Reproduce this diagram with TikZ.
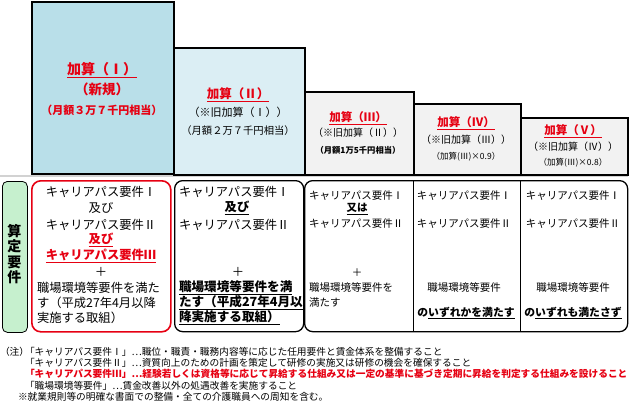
\documentclass[tikz,border=0pt]{standalone}
\usepackage{fontspec}
\setmainfont{Noto Sans CJK JP}
\newcommand\fsz[1]{\fontsize{#1}{#1}\selectfont}
\definecolor{jred}{RGB}{230,0,18}
\definecolor{blueI}{RGB}{185,223,233}
\definecolor{blueII}{RGB}{219,238,244}
\definecolor{grayb}{RGB}{242,242,242}
\definecolor{greenb}{RGB}{198,240,206}
\tikzset{
  topbox/.style={draw=black, line width=1.5pt},
  lowbox/.style={draw=black, line width=1.3pt, rounded corners=8pt},
  tx/.style={inner sep=0pt, outer sep=0pt},
  lt/.style={tx, anchor=west},
  body/.style={font=\fsz{12.3}},
  small/.style={font=\fsz{10.5}},
  note/.style={lt, font=\fsz{9.7}},
}
\begin{document}
\begin{tikzpicture}[x=1pt,y=-1pt]
\useasboundingbox (0,0) rectangle (630,407);
% faint strip under the top boxes
\draw[gray!35, line width=2pt] (0,176) -- (628,176);
% top boxes
\node[topbox, fill=blueI, minimum width=142pt, minimum height=172pt, anchor=north west] (bI) at (31,1) {};
\node[topbox, fill=blueII, minimum width=131pt, minimum height=127pt, anchor=north west] (bII) at (173,47) {};
\node[topbox, fill=grayb, minimum width=109pt, minimum height=83pt, anchor=north west] (bIII) at (304,91) {};
\node[topbox, fill=grayb, minimum width=107pt, minimum height=71pt, anchor=north west] (bIV) at (413,103) {};
\node[topbox, fill=grayb, minimum width=107pt, minimum height=57pt, anchor=north west] (bV) at (520,117) {};
% top texts
\node[tx, font=\fsz{14}\bfseries, text=jred] (t1a) at (102,70) {\underline{加算（Ⅰ）}};
\node[tx, font=\fsz{13.5}\bfseries, text=jred] (t1b) at (102,89) {（新規）};
\node[tx, font=\fsz{11}\bfseries, text=jred] (t1c) at (102,110) {（月額３万７千円相当）};
\node[tx, font=\fsz{12.5}\bfseries, text=jred] (t2a) at (238,95) {\underline{加算（Ⅱ）}};
\node[tx, font=\fsz{11}] (t2b) at (238,112) {（※旧加算（Ⅰ））};
\node[tx, font=\fsz{10.3}] (t2c) at (238,131) {（月額２万７千円相当）};
\node[tx, font=\fsz{11.5}\bfseries, text=jred] (t3a) at (358,118) {\underline{加算（Ⅲ）}};
\node[tx, font=\fsz{10}] (t3b) at (358,133) {（※旧加算（Ⅱ））};
\node[tx, font=\fsz{8.3}\bfseries] (t3c) at (358,150) {（月額1万5千円相当）};
\node[tx, font=\fsz{11.5}\bfseries, text=jred] (t4a) at (466,123) {\underline{加算（Ⅳ）}};
\node[tx, font=\fsz{10}] (t4b) at (466,140) {（※旧加算（Ⅲ））};
\node[tx, font=\fsz{8.5}] (t4c) at (466,157) {（加算(Ⅲ)×0.9）};
\node[tx, font=\fsz{11.5}\bfseries, text=jred] (t5a) at (573,131) {\underline{加算（Ⅴ）}};
\node[tx, font=\fsz{10}] (t5b) at (573,147) {（※旧加算（Ⅳ））};
\node[tx, font=\fsz{8.5}] (t5c) at (573,163) {（加算(Ⅲ)×0.8）};
% lower boxes
\node[draw=black, line width=0.8pt, fill=greenb, rounded corners=5pt, minimum width=25pt, minimum height=151pt, anchor=north west] (lg) at (2,181) {};
\node[tx, align=center, font=\fontsize{14}{15.5}\selectfont\bfseries] (lgt) at (14.5,254) {算\\定\\要\\件};
\node[draw=jred, line width=1.6pt, rounded corners=9pt, minimum width=139pt, minimum height=151pt, anchor=north west] (lI) at (31,180) {};
\node[lowbox, minimum width=129pt, minimum height=151pt, anchor=north west] (lII) at (174,180) {};
\node[lowbox, minimum width=323pt, minimum height=151pt, anchor=north west] (lR) at (304,180) {};
\draw[line width=0.9pt] (lR.north west -| bIV.west) -- (lR.south west -| bIV.west);
\draw[line width=0.9pt] (lR.north west -| bV.west) -- (lR.south west -| bV.west);
% box I texts
\node[tx, body] (a1) at (101,192) {キャリアパス要件Ⅰ};
\node[tx, body] (a2) at (101,208) {及び};
\node[tx, body] (a3) at (101,225) {キャリアパス要件Ⅱ};
\node[tx, body, font=\fsz{12.3}\bfseries, text=jred] (a4) at (101,240) {\underline{及び}};
\node[tx, body, font=\fsz{12.3}\bfseries, text=jred] (a5) at (101,256) {\underline{キャリアパス要件Ⅲ}};
\node[tx, body] (a6) at (101,272) {＋};
\node[lt, body] (a7) at (37,288) {職場環境等要件を満た};
\node[lt, body] (a8) at (37,303) {す（平成27年4月以降};
\node[lt, body] (a9) at (37,318) {実施する取組）};
% box II texts
\node[lt, body] (b1) at (179,192) {キャリアパス要件Ⅰ};
\node[tx, body, font=\fsz{12.3}\bfseries] (b2) at (237,208) {\underline{及び}};
\node[lt, body] (b3) at (179,225) {キャリアパス要件Ⅱ};
\node[tx, body] (b4) at (238,272) {＋};
\node[lt, body, font=\fsz{12.6}\bfseries] (b5) at (179,288) {\underline{職場環境等要件を満}};
\node[lt, body, font=\fsz{12.6}\bfseries] (b6) at (179,303) {\underline{たす（平成27年4月以}};
\node[lt, body, font=\fsz{12.6}\bfseries] (b7) at (179,318) {\underline{降実施する取組）}};
% box III texts
\node[lt, small] (c1) at (309,196) {キャリアパス要件Ⅰ};
\node[tx, small, font=\fsz{10.5}\bfseries] (c2) at (357,209) {\underline{又は}};
\node[lt, small] (c3) at (309,224) {キャリアパス要件Ⅱ};
\node[tx, small] (c4) at (357,273) {＋};
\node[lt, small] (c5) at (309,288) {職場環境等要件を};
\node[lt, small] (c6) at (309,303) {満たす};
% box IV texts
\node[tx, small] (d1) at (464,196) {キャリアパス要件Ⅰ};
\node[tx, small] (d2) at (464,224) {キャリアパス要件Ⅱ};
\node[tx, small] (d3) at (464,288) {職場環境等要件};
\node[tx, small, font=\fsz{10.8}\bfseries] (d4) at (466,313) {の\underline{いずれかを満たす}};
% box V texts
\node[tx, small] (e1) at (573,196) {キャリアパス要件Ⅰ};
\node[tx, small] (e2) at (573,224) {キャリアパス要件Ⅱ};
\node[tx, small] (e3) at (573,288) {職場環境等要件};
\node[tx, small, font=\fsz{10.8}\bfseries] (e4) at (573,313) {の\underline{いずれも満たさず}};
% notes
\node[note] (n0) at (0,352) {（注）};
\node[note] (n1) at (25,352) {「キャリアパス要件Ⅰ」…職位・職責・職務内容等に応じた任用要件と賃金体系を整備すること};
\node[note] (n2) at (25,363) {「キャリアパス要件Ⅱ」…資質向上のための計画を策定して研修の実施又は研修の機会を確保すること};
\node[note, font=\fsz{9.7}\bfseries, text=jred] (n3) at (25,374) {「キャリアパス要件Ⅲ」…経験若しくは資格等に応じて昇給する仕組み又は一定の基準に基づき定期に昇給を判定する仕組みを設けること};
\node[note] (n4) at (25,386) {「職場環境等要件」…賃金改善以外の処遇改善を実施すること};
\node[note] (n5) at (18,397) {※就業規則等の明確な書面での整備・全ての介護職員への周知を含む。};
\end{tikzpicture}
\end{document}
